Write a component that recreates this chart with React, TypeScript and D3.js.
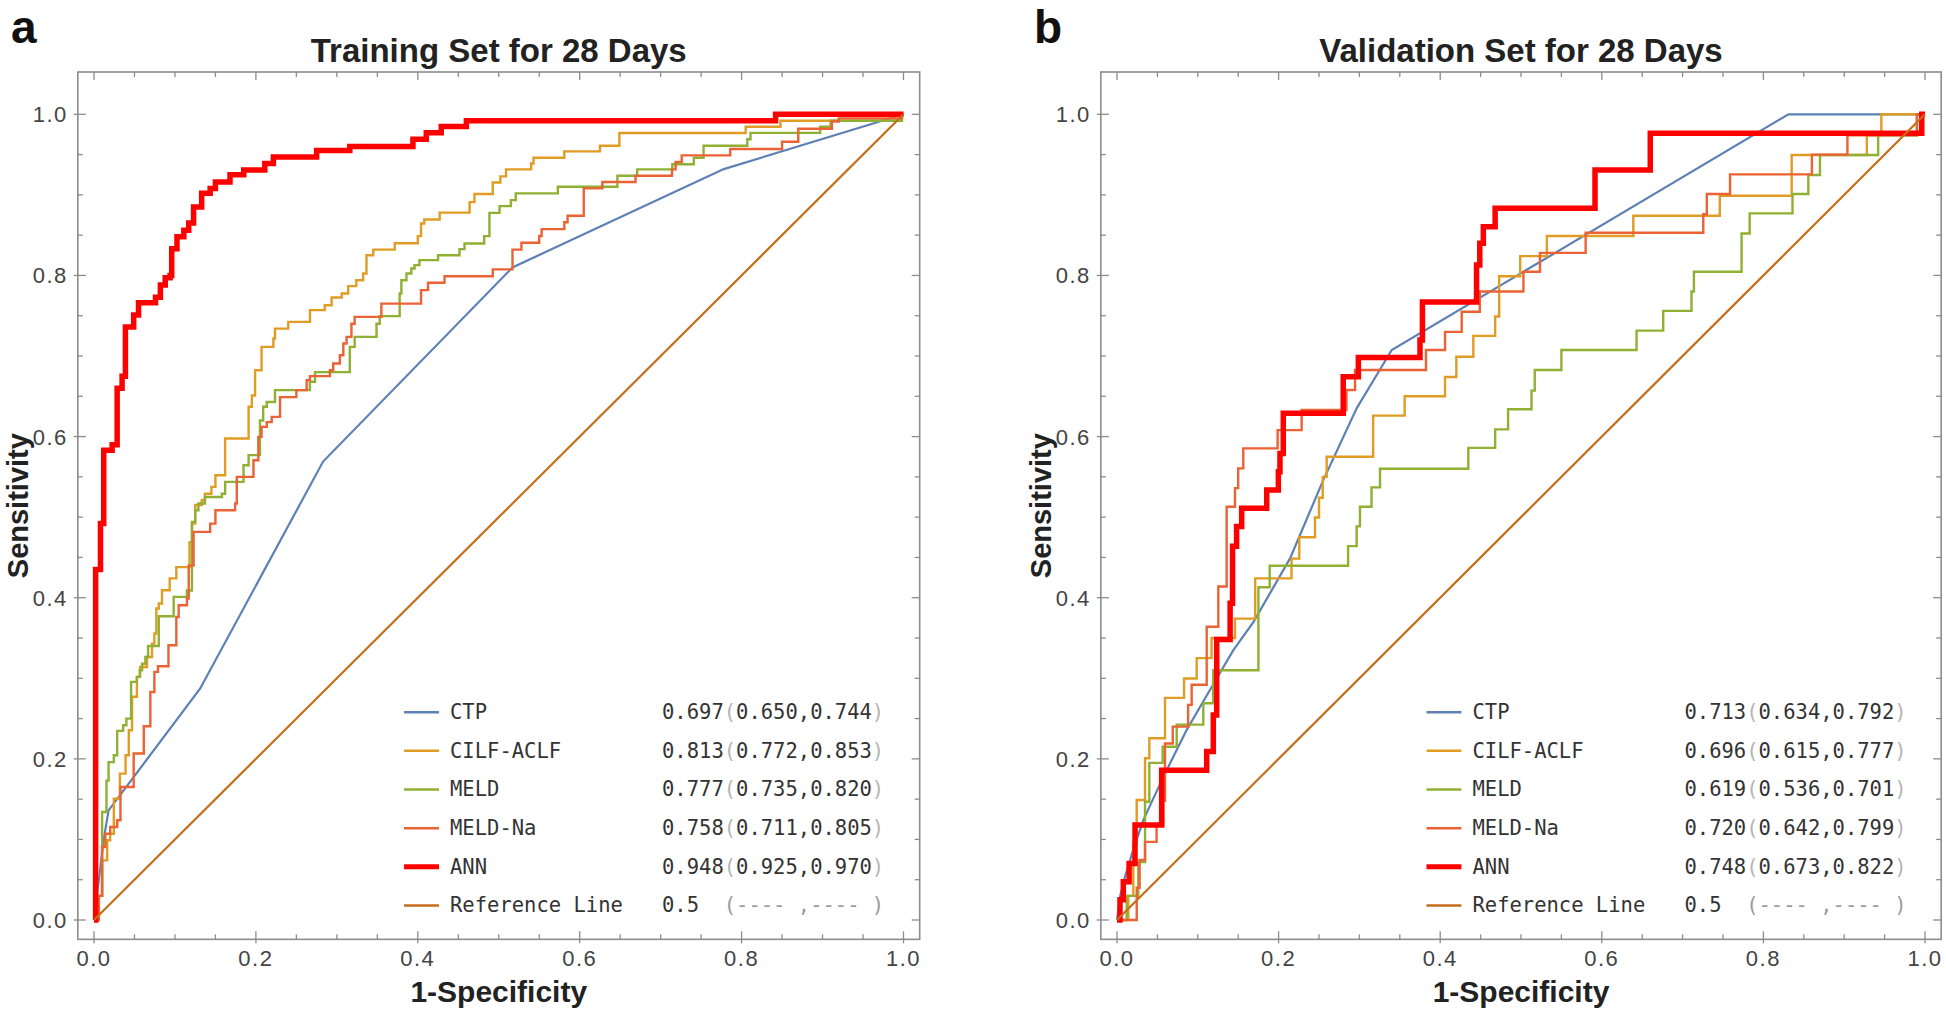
import React from "react";
import * as d3 from "d3";

type Pt = [number, number];

// ---------- Training set (panel a) ----------
const trainCTP: Pt[] = [[0,0],[0.012,0.10],[0.018,0.136],[0.131,0.287],[0.283,0.569],[0.517,0.81],[0.778,0.932],[1,1]];
const trainCILF: Pt[] = [[0,0],[0.006,0.03],[0.010,0.074],[0.0163,0.099],[0.020,0.107],[0.0245,0.1507],[0.032,0.1817],[0.039,0.2045],[0.043,0.2355],[0.047,0.277],[0.053,0.3017],[0.057,0.314],[0.0655,0.3265],[0.0717,0.343],[0.0746,0.3556],[0.077,0.3866],[0.080,0.3928],[0.084,0.4093],[0.0935,0.424],[0.1017,0.438],[0.118,0.469],[0.121,0.492],[0.125,0.515],[0.133,0.521],[0.137,0.529],[0.145,0.5376],[0.150,0.552],[0.162,0.5976],[0.191,0.637],[0.195,0.651],[0.199,0.6824],[0.207,0.7114],[0.2216,0.7218],[0.2236,0.734],[0.240,0.7424],[0.2668,0.757],[0.285,0.763],[0.2935,0.7727],[0.306,0.7776],[0.314,0.7867],[0.324,0.794],[0.3325,0.8025],[0.3366,0.825],[0.345,0.832],[0.3715,0.840],[0.40,0.8488],[0.404,0.8645],[0.408,0.8695],[0.427,0.878],[0.464,0.891],[0.470,0.901],[0.4926,0.9154],[0.502,0.923],[0.509,0.9316],[0.540,0.939],[0.543,0.946],[0.581,0.954],[0.625,0.961],[0.649,0.9767],[0.805,0.9845],[0.848,0.992],[0.998,1.0],[1,1]];
const trainMELD: Pt[] = [[0,0],[0.004,0.03],[0.01,0.134],[0.0154,0.173],[0.018,0.196],[0.0245,0.2045],[0.0286,0.2347],[0.036,0.2417],[0.040,0.25],[0.0458,0.2955],[0.053,0.3017],[0.0565,0.31],[0.0594,0.318],[0.0635,0.3265],[0.0668,0.34],[0.080,0.377],[0.0984,0.401],[0.1148,0.409],[0.121,0.494],[0.125,0.5086],[0.129,0.517],[0.137,0.525],[0.158,0.529],[0.162,0.5438],[0.1847,0.5645],[0.191,0.577],[0.205,0.620],[0.209,0.637],[0.2134,0.643],[0.2236,0.6576],[0.2667,0.668],[0.273,0.680],[0.316,0.7114],[0.322,0.7238],[0.349,0.740],[0.353,0.7495],[0.3776,0.7776],[0.3797,0.794],[0.386,0.8025],[0.392,0.8087],[0.396,0.8128],[0.402,0.819],[0.425,0.825],[0.4515,0.8327],[0.4577,0.8397],[0.482,0.8488],[0.4885,0.8777],[0.501,0.886],[0.515,0.8935],[0.521,0.9018],[0.573,0.910],[0.6466,0.9237],[0.671,0.9316],[0.7144,0.938],[0.741,0.946],[0.753,0.961],[0.807,0.969],[0.811,0.977],[0.897,0.9845],[0.91,0.992],[0.998,1],[1,1]];
const trainMELDNa: Pt[] = [[0,0],[0.006,0.03],[0.010,0.0906],[0.014,0.107],[0.020,0.1155],[0.0286,0.1238],[0.0327,0.165],[0.049,0.2066],[0.0615,0.2405],[0.0696,0.283],[0.0746,0.308],[0.079,0.315],[0.092,0.341],[0.1017,0.376],[0.1046,0.3907],[0.1148,0.399],[0.117,0.44],[0.123,0.4817],[0.1435,0.492],[0.150,0.5086],[0.1743,0.517],[0.1764,0.550],[0.197,0.5707],[0.203,0.5996],[0.207,0.612],[0.2134,0.618],[0.2195,0.6245],[0.2298,0.649],[0.250,0.6576],[0.2627,0.670],[0.2667,0.675],[0.2914,0.6824],[0.2955,0.6907],[0.3037,0.701],[0.308,0.7155],[0.312,0.7238],[0.318,0.740],[0.322,0.7486],[0.355,0.765],[0.404,0.7818],[0.4126,0.791],[0.433,0.799],[0.4926,0.8075],[0.517,0.832],[0.528,0.8405],[0.550,0.849],[0.553,0.8575],[0.581,0.866],[0.585,0.874],[0.605,0.908],[0.628,0.916],[0.669,0.9237],[0.714,0.9316],[0.7185,0.941],[0.726,0.949],[0.786,0.957],[0.85,0.966],[0.870,0.982],[0.9115,0.991],[0.92,0.995],[0.998,1.0],[1,1]];
const trainANN: Pt[] = [[0,0],[0.002,0.435],[0.008,0.492],[0.012,0.583],[0.0224,0.59],[0.0286,0.66],[0.0347,0.675],[0.0388,0.736],[0.049,0.751],[0.055,0.766],[0.076,0.773],[0.082,0.788],[0.088,0.797],[0.094,0.80],[0.096,0.833],[0.1025,0.848],[0.111,0.856],[0.117,0.865],[0.123,0.885],[0.133,0.902],[0.1435,0.908],[0.150,0.916],[0.168,0.925],[0.185,0.931],[0.211,0.939],[0.2216,0.947],[0.275,0.955],[0.316,0.960],[0.394,0.969],[0.4105,0.977],[0.429,0.985],[0.46,0.992],[0.842,1.0],[1.0,1.0]];

// ---------- Validation set (panel b) ----------
const validCTP: Pt[] = [[0,0],[0.004,0.03],[0.01,0.054],[0.02,0.087],[0.0326,0.124],[0.045,0.151],[0.0615,0.186],[0.0863,0.236],[0.115,0.2855],[0.144,0.335],[0.169,0.37],[0.214,0.4485],[0.2553,0.546],[0.2966,0.635],[0.34,0.7075],[0.831,1.0],[1,1]];
const validCILF: Pt[] = [[0,0],[0.014,0.03],[0.0202,0.095],[0.0244,0.149],[0.0347,0.2007],[0.040,0.2255],[0.0594,0.2757],[0.083,0.2997],[0.0986,0.325],[0.117,0.350],[0.146,0.374],[0.171,0.424],[0.216,0.4485],[0.2256,0.475],[0.245,0.4996],[0.25,0.524],[0.2546,0.550],[0.2595,0.575],[0.317,0.626],[0.356,0.650],[0.406,0.674],[0.420,0.699],[0.441,0.725],[0.468,0.749],[0.473,0.799],[0.499,0.824],[0.532,0.849],[0.639,0.874],[0.746,0.899],[0.835,0.9495],[0.928,0.974],[0.946,1.0],[1,1]];
const validMELD: Pt[] = [[0,0],[0.012,0.03],[0.0264,0.072],[0.0347,0.1468],[0.040,0.195],[0.0565,0.215],[0.0739,0.2425],[0.1068,0.269],[0.119,0.31],[0.175,0.413],[0.189,0.4397],[0.286,0.464],[0.2966,0.4885],[0.3007,0.513],[0.315,0.537],[0.3255,0.560],[0.4348,0.586],[0.468,0.609],[0.484,0.634],[0.513,0.657],[0.517,0.6826],[0.550,0.7075],[0.643,0.7315],[0.676,0.756],[0.711,0.780],[0.714,0.8046],[0.773,0.852],[0.783,0.877],[0.836,0.901],[0.8556,0.9247],[0.870,0.9495],[0.942,0.974],[0.99,1.0],[1,1]];
const validMELDNa: Pt[] = [[0,0],[0.0244,0.04],[0.028,0.0745],[0.0347,0.097],[0.049,0.118],[0.0573,0.148],[0.0594,0.219],[0.069,0.240],[0.088,0.267],[0.0924,0.292],[0.111,0.364],[0.1254,0.414],[0.1357,0.513],[0.146,0.536],[0.150,0.5606],[0.1563,0.5854],[0.1988,0.608],[0.2285,0.633],[0.284,0.6578],[0.2946,0.6826],[0.3824,0.7075],[0.406,0.730],[0.4266,0.755],[0.449,0.780],[0.503,0.8046],[0.5235,0.828],[0.580,0.853],[0.7256,0.876],[0.730,0.901],[0.7587,0.9255],[0.860,0.950],[0.904,0.974],[0.99,1.0],[1,1]];
const validANN: Pt[] = [[0,0],[0.0037,0.025],[0.0078,0.0475],[0.015,0.07],[0.0223,0.118],[0.0553,0.186],[0.111,0.209],[0.1192,0.2544],[0.1234,0.348],[0.140,0.393],[0.143,0.464],[0.148,0.4885],[0.1543,0.511],[0.1853,0.5337],[0.1997,0.5565],[0.2017,0.579],[0.2058,0.629],[0.280,0.6743],[0.2987,0.698],[0.375,0.72],[0.378,0.767],[0.445,0.813],[0.449,0.84],[0.4534,0.8605],[0.468,0.8833],[0.5916,0.931],[0.660,0.9764],[0.996,1.0],[1,1]];

const referenceLine: Pt[] = [[0,0],[1,1]];

// ---------- Legend & labels ----------
const modelNames = ["CTP", "CILF-ACLF", "MELD", "MELD-Na", "ANN", "Reference Line"];
const trainAUC = ["0.697", "0.813", "0.777", "0.758", "0.948", "0.5"];
const trainCI = ["0.650,0.744", "0.772,0.853", "0.735,0.820", "0.711,0.805", "0.925,0.970", null];
const validAUC = ["0.713", "0.696", "0.619", "0.720", "0.748", "0.5"];
const validCI = ["0.634,0.792", "0.615,0.777", "0.536,0.701", "0.642,0.799", "0.673,0.822", null];
const tickValues = [0, 0.2, 0.4, 0.6, 0.8, 1.0];
const tickLabels = ["0.0", "0.2", "0.4", "0.6", "0.8", "1.0"];

const colors = ["#5E81B5", "#E19C24", "#8FB032", "#EB6235", "#FF0000", "#C56E1A"];
const widths = [2.2, 2.4, 2.4, 2.4, 5.5, 2.2];
const stepped = [false, true, true, true, true, false];

const SANS = "'Liberation Sans', Arial, Helvetica, sans-serif";
const MONO = "'DejaVu Sans Mono', 'Liberation Mono', monospace";
const FRAME = "#8c8c8c";

interface PanelProps {
  letter: string;
  title: string;
  x0: number;
  x1: number;
  series: Pt[][];
  auc: string[];
  ci: (string | null)[];
}

const Y0 = 920;
const Y1 = 114.3;

function Panel({ letter, title, x0, x1, series, auc, ci }: PanelProps) {
  const x = d3.scaleLinear().domain([0, 1]).range([x0, x1]);
  const y = d3.scaleLinear().domain([0, 1]).range([Y0, Y1]);
  const fl = x(-0.02), fr = x(1.02), ft = y(1.0525), fb = y(-0.024);
  const minor = d3.range(0, 21).map((i) => i * 0.05);
  const isMajor = (v: number) => Math.abs(v * 5 - Math.round(v * 5)) < 1e-6;

  const stepLine = d3.line<Pt>().x((d) => x(d[0])).y((d) => y(d[1])).curve(d3.curveStepAfter);
  const linLine = d3.line<Pt>().x((d) => x(d[0])).y((d) => y(d[1]));

  const cx = (fl + fr) / 2;
  const cy = (ft + fb) / 2;
  const lx = x(0.383);
  const rowY = (i: number) => y(0.258 - i * 0.048);

  return (
    <g>
      <text x={x0 - 83} y={43} fontFamily={SANS} fontWeight="bold" fontSize={46} fill="#111">{letter}</text>
      <text x={cx} y={62} textAnchor="middle" fontFamily={SANS} fontWeight="bold" fontSize={33} fill="#222">{title}</text>
      <defs>
        <clipPath id={`clip-${letter}`}>
          <rect x={fl} y={ft} width={fr - fl} height={fb - ft} />
        </clipPath>
      </defs>
      <g clipPath={`url(#clip-${letter})`} fill="none" strokeLinejoin="miter" strokeLinecap="butt">
        {series.map((s, i) => (
          <path key={i} d={(stepped[i] ? stepLine(s) : linLine(s)) || ""} stroke={colors[i]} strokeWidth={widths[i]} />
        ))}
      </g>
      <rect x={fl} y={ft} width={fr - fl} height={fb - ft} fill="none" stroke={FRAME} strokeWidth={1.6} />
      {minor.map((v, i) => {
        const L = isMajor(v) ? 8 : 5;
        const px = x(v), py = y(v);
        return (
          <g key={i} stroke={FRAME} strokeWidth={1.3}>
            <line x1={px} x2={px} y1={fb + (isMajor(v) ? 4 : 0)} y2={fb - L} />
            <line x1={px} x2={px} y1={ft} y2={ft + L} />
            <line x1={fl - (isMajor(v) ? 4 : 0)} x2={fl + L} y1={py} y2={py} />
            <line x1={fr} x2={fr - L} y1={py} y2={py} />
          </g>
        );
      })}
      {tickValues.map((v, i) => (
        <g key={`t${i}`} fontFamily={SANS} fontSize={22} fill="#444" letterSpacing={1.5}>
          <text x={x(v)} y={fb + 27} textAnchor="middle">{tickLabels[i]}</text>
          <text x={fl - 10} y={y(v) + 8} textAnchor="end">{tickLabels[i]}</text>
        </g>
      ))}
      <text x={cx} y={1002} textAnchor="middle" fontFamily={SANS} fontWeight="bold" fontSize={30} fill="#222">1-Specificity</text>
      <text transform={`translate(${fl - 50},${cy}) rotate(-90)`} textAnchor="middle" fontFamily={SANS} fontWeight="bold" fontSize={29} fill="#222">Sensitivity</text>
      {modelNames.map((name, i) => {
        const ry = rowY(i);
        return (
          <g key={`l${i}`}>
            <line x1={lx} x2={lx + 35} y1={ry} y2={ry} stroke={colors[i]} strokeWidth={i === 4 ? 5 : 2.5} />
            <text x={lx + 46} y={ry + 7} fontFamily={MONO} fontSize={20.5} fill="#333" style={{ whiteSpace: "pre" }}>{name}</text>
            {ci[i] ? (
              <text x={lx + 258} y={ry + 7} fontFamily={MONO} fontSize={20.5} fill="#333" style={{ whiteSpace: "pre" }}>
                {auc[i]}
                <tspan fill="#b5b5b5">(</tspan>
                {ci[i]}
                <tspan fill="#b5b5b5">)</tspan>
              </text>
            ) : (
              <text x={lx + 258} y={ry + 7} fontFamily={MONO} fontSize={20.5} fill="#333" style={{ whiteSpace: "pre" }}>
                {auc[i] + "  "}
                <tspan fill="#9a9a9a">{"(---- ,---- )"}</tspan>
              </text>
            )}
          </g>
        );
      })}
    </g>
  );
}

export default function App() {
  return (
    <svg width={1946} height={1012} viewBox="0 0 1946 1012" style={{ position: "absolute", left: 0, top: 0, background: "#fff" }}>
      <rect x={0} y={0} width={1946} height={1012} fill="#fff" />
      <Panel letter="a" title="Training Set for 28 Days" x0={94} x1={903.5}
        series={[trainCTP, trainCILF, trainMELD, trainMELDNa, trainANN, referenceLine]}
        auc={trainAUC} ci={trainCI} />
      <Panel letter="b" title="Validation Set for 28 Days" x0={1117} x1={1925}
        series={[validCTP, validCILF, validMELD, validMELDNa, validANN, referenceLine]}
        auc={validAUC} ci={validCI} />
    </svg>
  );
}
